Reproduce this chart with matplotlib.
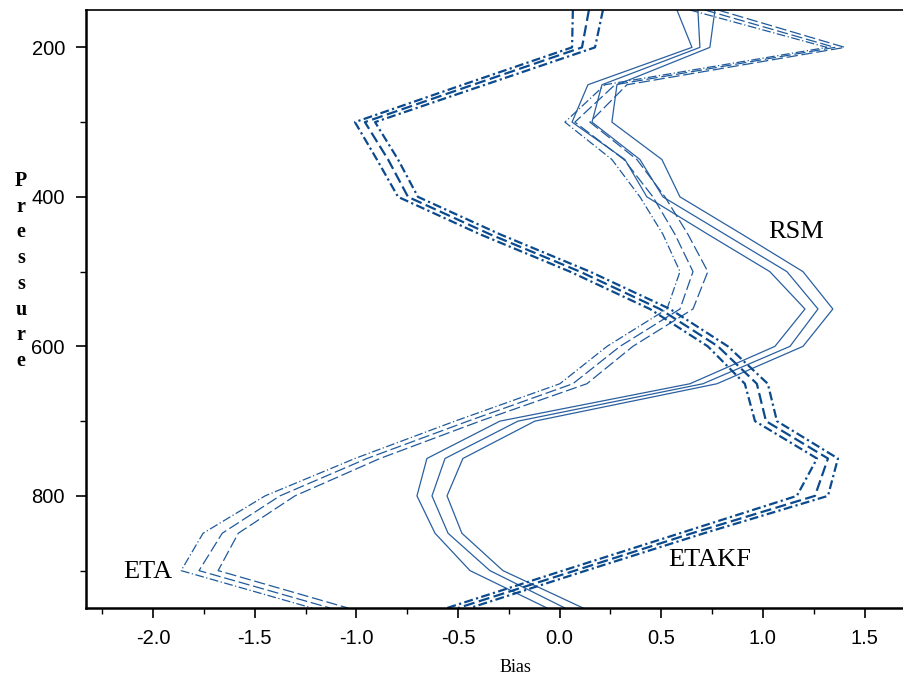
import matplotlib
matplotlib.use("Agg")
import matplotlib.pyplot as plt
from matplotlib.ticker import MultipleLocator, FormatStrFormatter

plt.rcParams['axes.unicode_minus'] = False

pressure = [150, 200, 250, 300, 350, 400, 450, 500, 550, 600, 650, 700, 750, 800, 850, 900, 950]

# RSM (solid)
rsm_lo = [0.577, 0.651, 0.139, 0.061, 0.321, 0.429, 0.729, 1.034, 1.207, 1.059, 0.641, -0.294, -0.653, -0.702, -0.613, -0.441, -0.062]
rsm_mid = [0.680, 0.690, 0.208, 0.159, 0.395, 0.508, 0.813, 1.118, 1.271, 1.133, 0.705, -0.205, -0.564, -0.628, -0.549, -0.343, 0.026]
rsm_hi = [0.764, 0.739, 0.282, 0.257, 0.503, 0.592, 0.897, 1.197, 1.344, 1.197, 0.774, -0.122, -0.476, -0.554, -0.481, -0.279, 0.115]

# ETA (dashed)
eta_lo = [0.641, 1.315, 0.223, 0.026, 0.257, 0.395, 0.508, 0.592, 0.528, 0.233, 0.001, -0.515, -1.007, -1.449, -1.754, -1.862, -1.218]
eta_mid = [0.715, 1.354, 0.272, 0.075, 0.316, 0.459, 0.567, 0.656, 0.592, 0.297, 0.065, -0.451, -0.948, -1.376, -1.660, -1.774, -1.129]
eta_hi = [0.779, 1.403, 0.331, 0.149, 0.380, 0.518, 0.631, 0.729, 0.656, 0.360, 0.134, -0.392, -0.884, -1.302, -1.581, -1.680, -1.041]

# ETAKF (dash-dot)
etakf_lo = [0.065, 0.061, -0.476, -1.007, -0.899, -0.795, -0.392, 0.051, 0.444, 0.729, 0.911, 0.961, 1.266, 1.167, 0.592, 0.016, -0.554]
etakf_mid = [0.144, 0.110, -0.426, -0.958, -0.844, -0.746, -0.343, 0.100, 0.493, 0.779, 0.970, 1.015, 1.320, 1.256, 0.651, 0.075, -0.500]
etakf_hi = [0.213, 0.174, -0.367, -0.908, -0.795, -0.697, -0.294, 0.149, 0.543, 0.828, 1.024, 1.069, 1.369, 1.320, 0.710, 0.129, -0.441]

labels = ["RSM", "ETA", "ETAKF"]
label_pos_x = [1.161, -2.025, 0.739]
label_pos_p = [447, 902, 886]

xticks = [-2.0, -1.5, -1.0, -0.5, 0.0, 0.5, 1.0, 1.5]
yticks = [200, 400, 600, 800]

fig = plt.figure(figsize=(9.04, 6.83), dpi=100)
ax = fig.add_axes([86/904, 1-608/683, 1-86/904, (608-10)/683])

c_solid = '#2a60a0'
c_dash = '#1f5a9b'
c_kf = '#0b4a8c'

for xs in (rsm_lo, rsm_mid, rsm_hi):
    ax.plot(xs, pressure, color=c_solid, lw=0.9, linestyle='-')

eta_styles = [(0, (7, 2, 1, 2)), (0, (9, 3)), (0, (9, 3))]
for xs, ls in zip((eta_lo, eta_mid, eta_hi), eta_styles):
    ax.plot(xs, pressure, color=c_dash, lw=0.9, linestyle=ls)

kf_styles = [(0, (4, 1.5, 1, 1.5)), (0, (5, 2)), (0, (4, 1.5, 1, 1.5))]
for xs, ls in zip((etakf_lo, etakf_mid, etakf_hi), kf_styles):
    ax.plot(xs, pressure, color=c_kf, lw=1.6, linestyle=ls)

for t, x, p in zip(labels, label_pos_x, label_pos_p):
    ax.text(x, p, t, fontsize=19, family='Liberation Serif', ha='center', va='center', color='black')

ax.set_xlim(-2.33, 1.694)
ax.set_ylim(950, 150)
ax.set_xticks(xticks)
ax.set_yticks(yticks)
ax.xaxis.set_minor_locator(MultipleLocator(0.25))
ax.yaxis.set_minor_locator(MultipleLocator(100))
ax.xaxis.set_major_formatter(FormatStrFormatter('%.1f'))

ax.tick_params(which='major', length=7.2, width=1.2, labelsize=14.5, pad=8)
ax.tick_params(which='minor', length=4, width=1.0)
for lab in ax.get_xticklabels() + ax.get_yticklabels():
    lab.set_family('Liberation Sans')

ax.spines['right'].set_visible(False)
ax.spines['left'].set_linewidth(1.8)
ax.spines['bottom'].set_linewidth(1.8)
ax.spines['top'].set_linewidth(1.2)

fig.text(515/904, 1-668/683, "Bias", fontsize=13, family='Liberation Serif', ha='center', va='center')
fig.text(21/904, 1-271/683, "P\nr\ne\ns\ns\nu\nr\ne", fontsize=14.5, family='Liberation Serif',
         ha='center', va='center', linespacing=1.38, fontweight='bold')

fig.savefig("out.png", dpi=100)
